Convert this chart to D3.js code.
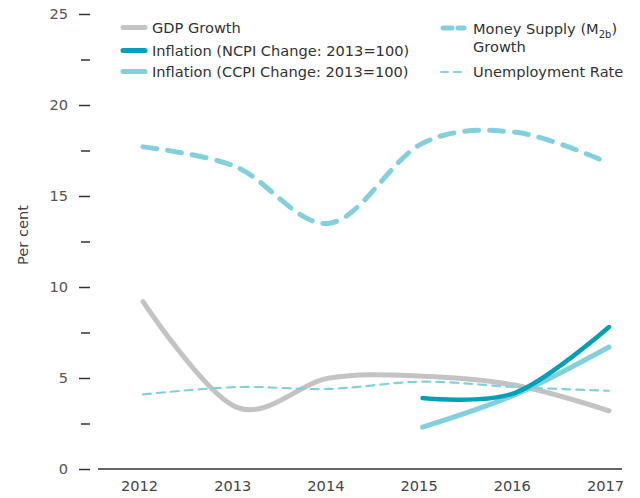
<!DOCTYPE html>
<html><head><meta charset="utf-8">
<script src="https://cdn.jsdelivr.net/npm/d3@7"></script>
<style>
body{margin:0;background:#fff;}
text{font-family:"DejaVu Sans",sans-serif;}
</style></head>
<body><svg id="c" width="640" height="498"></svg>
<script>
const years = [2012, 2013, 2014, 2015, 2016, 2017];
const gdpGrowth = [9.2, 3.4, 5.0, 5.1, 4.6, 3.2];
const inflYears = [2015, 2016, 2017];
const ncpi = [3.9, 4.2, 7.8];
const ccpi = [2.3, 4.1, 6.7];
const m2bGrowth = [17.7, 16.6, 13.5, 17.9, 18.5, 16.8];
const unemployment = [4.1, 4.5, 4.4, 4.8, 4.5, 4.3];
const yTicks = [0, 5, 10, 15, 20, 25];
const yMinorTicks = [2.5, 7.5, 12.5, 17.5, 22.5];

const FS = 14.6;
const svg = d3.select("#c");
const x = d3.scaleLinear().domain([2012, 2017]).range([143, 609]);
const y = d3.scaleLinear().domain([0, 25]).range([469, 14]);

const cLight = "#82d0dc", cTeal = "#00a0b8", cGray = "#c3c3c3";

// y axis
const ya = svg.append("g").attr("transform", "translate(90,0)")
  .call(d3.axisLeft(y).tickValues(yTicks).tickSize(11).tickPadding(11));
ya.select(".domain").remove();
ya.selectAll(".tick line").attr("stroke", "#333").attr("stroke-width", 1.5);
ya.selectAll(".tick text").attr("fill", "#555").attr("font-size", FS);
const ym = svg.append("g").attr("transform", "translate(90,0)")
  .call(d3.axisLeft(y).tickValues(yMinorTicks).tickSize(9).tickFormat(""));
ym.select(".domain").remove();
ym.selectAll(".tick line").attr("stroke", "#333").attr("stroke-width", 1.5);

// x axis
svg.append("line").attr("x1", 98).attr("x2", 622).attr("y1", y(0)).attr("y2", y(0))
  .attr("stroke", "#666").attr("stroke-width", 2);
const xa = svg.append("g").attr("transform", `translate(-4,${y(0)})`)
  .call(d3.axisBottom(x).tickValues(years).tickSize(0).tickPadding(12).tickFormat(d3.format("d")));
xa.select(".domain").remove();
xa.selectAll(".tick text").attr("fill", "#444").attr("font-size", FS);

svg.append("text").attr("transform", "translate(28,235) rotate(-90)")
  .attr("text-anchor", "middle").attr("fill", "#444").attr("font-size", FS).text("Per cent");

const line = d3.line().curve(d3.curveCardinal.tension(0)).x(d => x(d[0])).y(d => y(d[1]));
function draw(xs, vals, color, w, dash) {
  const p = svg.append("path").datum(xs.map((v, i) => [v, vals[i]]))
    .attr("d", line).attr("fill", "none").attr("stroke", color)
    .attr("stroke-width", w).attr("stroke-linecap", "round");
  if (dash) p.attr("stroke-dasharray", dash);
}
draw(years, m2bGrowth, cLight, 5, "14,11");
draw(years, gdpGrowth, cGray, 5);
draw(years, unemployment, cLight, 2.2, "8,6");
draw(inflYears, ccpi, cLight, 5);
draw(inflYears, ncpi, cTeal, 4.5);

// legend
const lg = svg.append("g");
function sample(x0, yy, color, w, dash, len) {
  const l = lg.append("line").attr("x1", x0).attr("x2", x0 + len).attr("y1", yy).attr("y2", yy)
    .attr("stroke", color).attr("stroke-width", w).attr("stroke-linecap", "round");
  if (dash) l.attr("stroke-dasharray", dash);
}
function label(x0, yy, t) {
  return lg.append("text").attr("x", x0).attr("y", yy).attr("fill", "#333").attr("font-size", FS).text(t);
}
sample(123, 27.5, cGray, 5, null, 22);
label(152, 33, "GDP Growth");
sample(123, 50.5, cTeal, 5, null, 22);
label(152, 56, "Inflation (NCPI Change: 2013=100)");
sample(123, 71.5, cLight, 5, null, 22);
label(152, 77, "Inflation (CCPI Change: 2013=100)");

sample(443, 28, cLight, 5, "9,6", 21);
const t1 = label(473, 34, "Money Supply (M");
t1.append("tspan").attr("font-size", 10).attr("dy", 4).text("2b");
t1.append("tspan").attr("dy", -4).text(")");
label(473, 52, "Growth");
sample(441, 72, cLight, 2, "7,6", 26);
label(473, 77, "Unemployment Rate");
</script></body></html>
